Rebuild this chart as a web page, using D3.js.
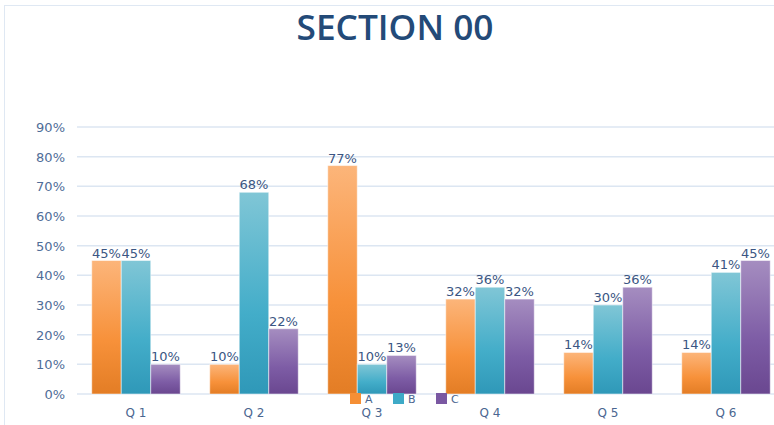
<!DOCTYPE html>
<html>
<head>
<meta charset="utf-8">
<script src="https://cdn.jsdelivr.net/npm/d3@7"></script>
<style>
  body { margin: 0; background: #fff; }
  svg { display: block; }
</style>
</head>
<body>
<div id="chart"></div>
<script>
const categories = ["Q 1", "Q 2", "Q 3", "Q 4", "Q 5", "Q 6"];
const seriesNames = ["A", "B", "C"];
const valuesA = [45, 10, 77, 32, 14, 14];
const valuesB = [45, 68, 10, 36, 30, 41];
const valuesC = [10, 22, 13, 32, 36, 45];
const yTicks = [0, 10, 20, 30, 40, 50, 60, 70, 80, 90];

const width = 774, height = 425;
const margin = { left: 77, right: -11, top: 127, bottom: 31 };

const svg = d3.select("#chart").append("svg")
  .attr("width", width)
  .attr("height", height);

const defs = svg.append("defs");
const grads = [
  ["gA", "#fcb57a", "#f7913a", "#e37d25"],
  ["gB", "#80c6d6", "#43adc9", "#2f98b8"],
  ["gC", "#a58dc0", "#7d5ca5", "#6a4790"]
];
grads.forEach(function(g) {
  const lg = defs.append("linearGradient")
    .attr("id", g[0]).attr("x1", 0).attr("y1", 0).attr("x2", 0).attr("y2", 1);
  lg.append("stop").attr("offset", "0%").attr("stop-color", g[1]);
  lg.append("stop").attr("offset", "60%").attr("stop-color", g[2]);
  lg.append("stop").attr("offset", "100%").attr("stop-color", g[3]);
});

// frame
svg.append("rect")
  .attr("x", 4.5).attr("y", 5.5)
  .attr("width", width).attr("height", height)
  .attr("fill", "none")
  .attr("stroke", "#dfe8f3");

svg.append("text")
  .attr("x", 395).attr("y", 40)
  .attr("text-anchor", "middle")
  .attr("font-family", "'Comic Sans MS', 'Open Sans', sans-serif")
  .attr("font-weight", 600)
  .attr("font-size", 34)
  .attr("textLength", 197)
  .attr("lengthAdjust", "spacingAndGlyphs")
  .attr("fill", "#234a78")
  .text("SECTION 00");

const x = d3.scaleBand()
  .domain(categories)
  .range([margin.left, width - margin.right])
  .paddingInner(0.25)
  .paddingOuter(0.125);

const xs = d3.scaleBand()
  .domain(seriesNames)
  .range([0, x.bandwidth()]);

const y = d3.scaleLinear()
  .domain([0, 90])
  .range([height - margin.bottom, margin.top]);

// grid
svg.append("g")
  .selectAll("line")
  .data(yTicks)
  .join("line")
  .attr("x1", margin.left).attr("x2", width)
  .attr("y1", d => y(d)).attr("y2", d => y(d))
  .attr("stroke", "#dce6f2")
  .attr("stroke-width", 1.5);

const yAxis = svg.append("g")
  .attr("transform", "translate(" + (margin.left - 9) + ",0)")
  .call(d3.axisLeft(y).tickValues(yTicks).tickSize(0).tickFormat(d => d + "%"));
yAxis.select(".domain").remove();
yAxis.selectAll("text")
  .attr("font-family", "'DejaVu Sans', sans-serif")
  .attr("font-size", 13)
  .attr("fill", "#4f6d98")
  .attr("dy", "0.35em");

const xAxis = svg.append("g")
  .attr("transform", "translate(0," + (height - margin.bottom) + ")")
  .call(d3.axisBottom(x).tickSize(0).tickPadding(14));
xAxis.select(".domain").remove();
xAxis.selectAll("text")
  .attr("font-family", "'DejaVu Sans', sans-serif")
  .attr("font-size", 12)
  .attr("fill", "#4a6690");

const series = [valuesA, valuesB, valuesC];
const rows = [];
categories.forEach(function(c, i) {
  seriesNames.forEach(function(s, j) {
    rows.push({ cat: c, name: s, value: series[j][i], grad: grads[j][0] });
  });
});

const bars = svg.append("g");
bars.selectAll("rect")
  .data(rows)
  .join("rect")
  .attr("x", d => x(d.cat) + xs(d.name))
  .attr("y", d => y(d.value))
  .attr("width", xs.bandwidth())
  .attr("height", d => y(0) - y(d.value))
  .attr("fill", d => "url(#" + d.grad + ")")
  .attr("stroke", "#ffffff")
  .attr("stroke-opacity", 0.5)
  .attr("stroke-width", 1);

bars.selectAll("text")
  .data(rows)
  .join("text")
  .attr("x", d => x(d.cat) + xs(d.name) + xs.bandwidth() / 2)
  .attr("y", d => y(d.value) - 3)
  .attr("text-anchor", "middle")
  .attr("font-family", "'DejaVu Sans', sans-serif")
  .attr("font-size", 13)
  .attr("fill", "#3b5683")
  .text(d => d.value + "%");

// legend
const legendColors = ["#f58f35", "#3eaac7", "#7a58a2"];
const legend = svg.append("g").attr("transform", "translate(350,393)");
const item = legend.selectAll("g")
  .data(seriesNames)
  .join("g")
  .attr("transform", (d, i) => "translate(" + (i * 43) + ",0)");
item.append("rect")
  .attr("width", 11).attr("height", 11)
  .attr("fill", (d, i) => legendColors[i]);
item.append("text")
  .attr("x", 15).attr("y", 10)
  .attr("font-family", "'DejaVu Sans', sans-serif")
  .attr("font-size", 11)
  .attr("fill", "#4a6690")
  .text(d => d);
</script>
</body>
</html>
